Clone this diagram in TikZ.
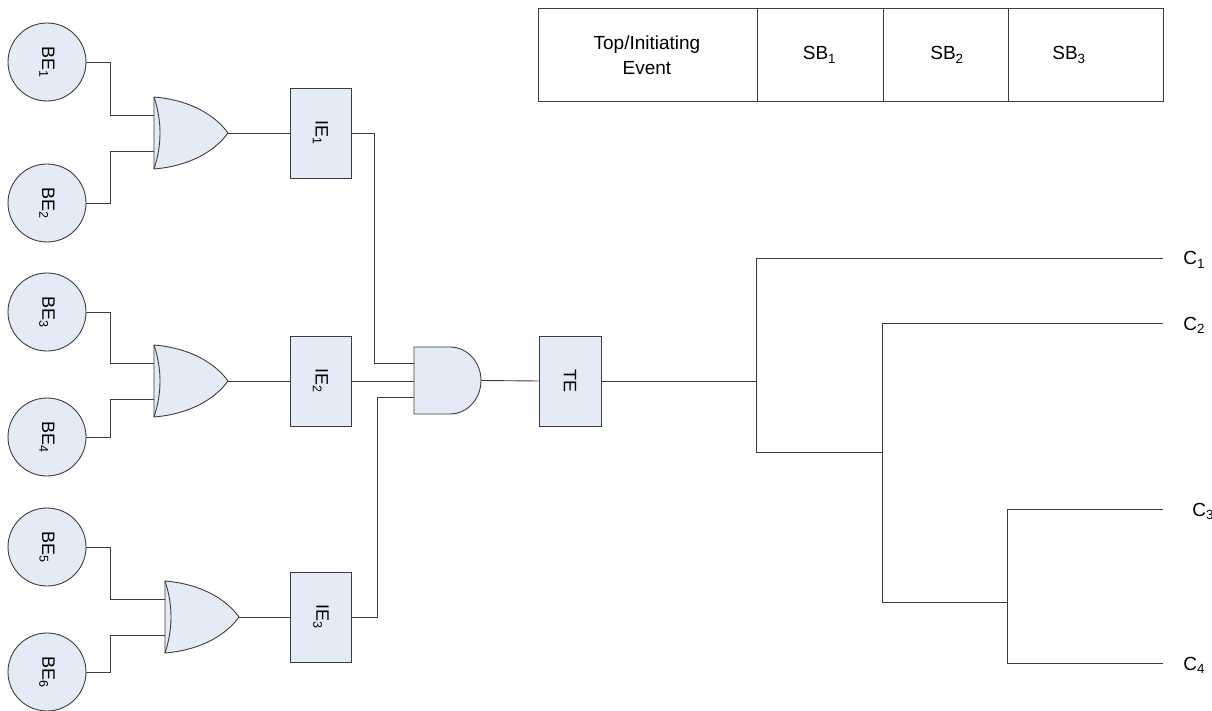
\documentclass[tikz,border=0pt]{standalone}
\usepackage{fontspec}
\setmainfont{Liberation Sans}
\definecolor{gatefill}{RGB}{229,235,246}
\definecolor{wire}{RGB}{60,60,60}
\begin{document}
\begin{tikzpicture}[x=1pt,y=-1pt,
  every path/.style={line width=0.9pt},
  ln/.style={draw=wire,line width=0.9pt},
  evt/.style={circle,draw=wire,fill=gatefill,line width=0.9pt,minimum size=78pt,inner sep=0pt,
    font=\fontsize{18}{20}\selectfont},
  ibox/.style={rectangle,draw=wire,fill=gatefill,line width=0.9pt,minimum width=61pt,minimum height=90pt,inner sep=0pt,
    font=\fontsize{18}{20}\selectfont},
  cell/.style={rectangle,draw=wire,line width=0.9pt,minimum height=93pt,inner sep=0pt,anchor=north west},
  ttext/.style={font=\fontsize{19}{25}\selectfont,align=center,inner sep=0pt},
  clab/.style={font=\fontsize{19}{20}\selectfont,anchor=base west,inner sep=0pt},
  orgate/.pic={
    \path[fill=gatefill,draw=wire,line width=0.9pt] (0,-36) .. controls (36,-33) and (61,-18) .. (74,0)
      .. controls (61,18) and (36,33) .. (0,36) -- cycle;
    \draw[wire,line width=0.9pt] (0,-36) .. controls (8,-12) and (8,12) .. (0,36);
    \coordinate (-in1) at (0,-18);
    \coordinate (-in2) at (0,18);
    \coordinate (-out) at (74,0);
  },
  andgate/.pic={
    \path[fill=gatefill,draw=wire,line width=0.9pt] (0,-33.5) -- (36,-33.5)
      .. controls (53.1,-33.5) and (67,-18.5) .. (67,0)
      .. controls (67,18.5) and (53.1,33.5) .. (36,33.5) -- (0,33.5) -- cycle;
    \coordinate (-in1) at (0,-17.5);
    \coordinate (-in2) at (0,0.5);
    \coordinate (-in3) at (0,16.5);
    \coordinate (-out) at (67,0);
  }]
\useasboundingbox (0,0) rectangle (1212,711);

% basic events
\node[evt] (be1) at (47,62)  {\rotatebox{-90}{BE\textsubscript{1}}};
\node[evt] (be2) at (47,203) {\rotatebox{-90}{BE\textsubscript{2}}};
\node[evt] (be3) at (47,312) {\rotatebox{-90}{BE\textsubscript{3}}};
\node[evt] (be4) at (47,437) {\rotatebox{-90}{BE\textsubscript{4}}};
\node[evt] (be5) at (47,547) {\rotatebox{-90}{BE\textsubscript{5}}};
\node[evt] (be6) at (47,672) {\rotatebox{-90}{BE\textsubscript{6}}};

% OR gates
\pic (or1) at (154,133) {orgate};
\pic (or2) at (154,381) {orgate};
\pic (or3) at (165,617) {orgate};

% intermediate events
\node[ibox] (ie1) at (320.5,133) {\rotatebox{-90}{IE\textsubscript{1}}};
\node[ibox] (ie2) at (320.5,381) {\rotatebox{-90}{IE\textsubscript{2}}};
\node[ibox] (ie3) at (321,617) {\rotatebox{-90}{IE\textsubscript{3}}};

% AND gate
\pic (and) at (414,380.5) {andgate};

% top event
\node[ibox,minimum width=62pt] (te) at (570,381) {\rotatebox{-90}{TE}};

% wires
\draw[ln] (be1.east) -- ++(24,0) |- (or1-in1);
\draw[ln] (be2.east) -- ++(24,0) |- (or1-in2);
\draw[ln] (be3.east) -- ++(24,0) |- (or2-in1);
\draw[ln] (be4.east) -- ++(24,0) |- (or2-in2);
\draw[ln] (be5.east) -- ++(24,0) |- (or3-in1);
\draw[ln] (be6.east) -- ++(24,0) |- (or3-in2);
\draw[ln] (or1-out) -- (ie1.west);
\draw[ln] (or2-out) -- (ie2.west);
\draw[ln] (or3-out) -- (ie3.west);
\draw[ln] (ie1.east) -- ++(23,0) |- (and-in1);
\draw[ln] (ie2.east) -- (and-in2);
\draw[ln] (ie3.east) -- ++(25,0) |- (and-in3);
\draw[ln] (and-out) -- (te.west);

% event tree
\coordinate (j0) at (756,381);
\coordinate (a1) at (756,258);
\coordinate (a2) at (756,452);
\coordinate (b0) at (882,452);
\coordinate (b1) at (882,323);
\coordinate (b2) at (882,602);
\coordinate (d0) at (1007,602);
\coordinate (d1) at (1007,509);
\coordinate (d2) at (1007,663);
\coordinate (e1) at (1163,258);
\coordinate (e2) at (1163,323);
\coordinate (e3) at (1163,509);
\coordinate (e4) at (1163,663);
\draw[ln] (te.east) -- (j0);
\draw[ln] (a1) -- (a2);
\draw[ln] (a1) -- (e1);
\draw[ln] (a2) -- (b0);
\draw[ln] (b1) -- (b2);
\draw[ln] (b1) -- (e2);
\draw[ln] (b2) -- (d0);
\draw[ln] (d1) -- (d2);
\draw[ln] (d1) -- (e3);
\draw[ln] (d2) -- (e4);

\node[clab] (c1) at (1183,265) {C\textsubscript{1}};
\node[clab] (c2) at (1183,330) {C\textsubscript{2}};
\node[clab] (c3) at (1192,516) {C\textsubscript{3}};
\node[clab] (c4) at (1183,670) {C\textsubscript{4}};

% header table
\node[cell,minimum width=219pt] (h0) at (538,8) {};
\node[cell,minimum width=126pt] (h1) at (757,8) {};
\node[cell,minimum width=125pt] (h2) at (883,8) {};
\node[cell,minimum width=155pt] (h3) at (1008,8) {};
\node[ttext] (t0) at ([xshift=-1pt]h0.center) {Top/Initiating\\Event};
\node[ttext] (t1) at ([xshift=-1pt]h1.center) {SB\textsubscript{1}};
\node[ttext] (t2) at ([xshift=1pt]h2.center) {SB\textsubscript{2}};
\node[ttext] (t3) at ([xshift=-17pt]h3.center) {SB\textsubscript{3}};
\end{tikzpicture}
\end{document}
